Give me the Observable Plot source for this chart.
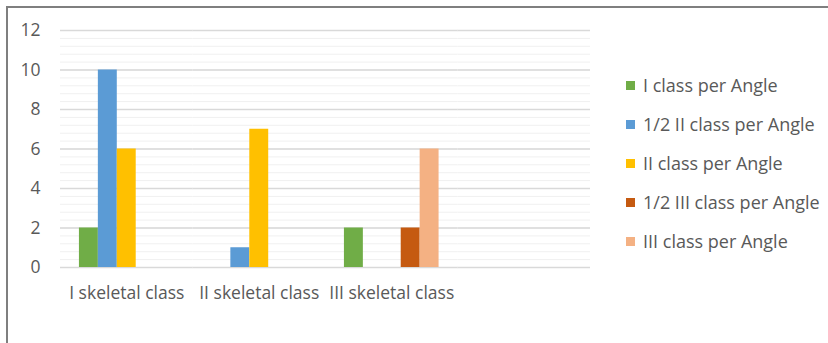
<!DOCTYPE html>
<html>
<head>
<meta charset="utf-8">
<script src="https://cdn.jsdelivr.net/npm/d3@7"></script>
<script src="https://cdn.jsdelivr.net/npm/@observablehq/plot@0.6"></script>
<style>
  html, body { margin: 0; padding: 0; background: #fff; }
  #wrap { position: relative; width: 828px; height: 343px; overflow: hidden; font-family: "Open Sans", sans-serif; }
  #frame { position: absolute; left: 6px; top: 6px; right: -10px; bottom: -10px; border-top: 2px solid #7f7f7f; border-left: 2px solid #7f7f7f; pointer-events: none; }
  #legend { position: absolute; left: 626px; top: 0; }
  .item { position: absolute; left: 0; white-space: nowrap; font-size: 18px; color: #595959; line-height: 20px; }
  .sw { position: absolute; left: 0; top: 6px; width: 9px; height: 9px; }
  .lbl { position: absolute; left: 17px; top: 0; }
  svg { position: absolute; left: 0; top: 0; }
</style>
</head>
<body>
<div id="wrap"><div id="legend"></div><div id="frame"></div></div>
<script>
const categories = ["I skeletal class", "II skeletal class", "III skeletal class", " "];
const series = ["I class per Angle", "1/2 II class per Angle", "II class per Angle", "1/2 III class per Angle", "III class per Angle"];
const colors = ["#70AD47", "#5B9BD5", "#FFC000", "#C55A11", "#F4B183"];
const valuesISkeletal = [2, 10, 6, 0, 0];
const valuesIISkeletal = [0, 1, 7, 0, 0];
const valuesIIISkeletal = [2, 0, 0, 2, 6];
const yTicks = [0, 2, 4, 6, 8, 10, 12];
const minorTicks = d3.range(0, 12.001, 0.4);

const table = [valuesISkeletal, valuesIISkeletal, valuesIIISkeletal];
const rows = [];
table.forEach((vals, i) => vals.forEach((v, j) => {
  if (v > 0) rows.push({category: categories[i], series: series[j], value: v});
}));
const minorGrid = categories.flatMap(c => minorTicks.map(t => ({category: c, t})));
const majorGrid = categories.flatMap(c => yTicks.map(t => ({category: c, t})));

const chart = Plot.plot({
  width: 828,
  height: 343,
  marginLeft: 60,
  marginRight: 238,
  marginTop: 30,
  marginBottom: 76,
  style: {fontFamily: "Open Sans, sans-serif", fontSize: "17.5px", color: "#595959", background: "transparent"},
  fx: {domain: categories, paddingInner: 0, paddingOuter: 0, round: false, label: null, axis: "bottom", tickSize: 0, tickPadding: 19},
  x: {domain: series, paddingInner: 0, paddingOuter: 1, round: false, axis: null},
  y: {domain: [0, 12], ticks: yTicks, tickSize: 0, tickPadding: 20, label: null},
  color: {domain: series, range: colors},
  marks: [
    Plot.ruleY(minorGrid, {fx: "category", y: "t", stroke: "#f0f0f0", strokeWidth: 1}),
    Plot.ruleY(majorGrid, {fx: "category", y: "t", stroke: "#d9d9d9", strokeWidth: 1.3}),
    Plot.barY(rows, {fx: "category", x: "series", y: "value", fill: "series", insetLeft: 0, insetRight: 0})
  ]
});
const wrap = document.getElementById("wrap");
wrap.insertBefore(chart, wrap.firstChild);

const legend = document.getElementById("legend");
const rowTops = [75, 114, 153, 192, 231];
series.forEach((s, i) => {
  const it = document.createElement("div");
  it.className = "item";
  it.style.top = rowTops[i] + "px";
  const sw = document.createElement("div");
  sw.className = "sw";
  sw.style.background = colors[i];
  const lb = document.createElement("span");
  lb.className = "lbl";
  lb.textContent = s;
  it.appendChild(sw);
  it.appendChild(lb);
  legend.appendChild(it);
});
</script>
</body>
</html>
